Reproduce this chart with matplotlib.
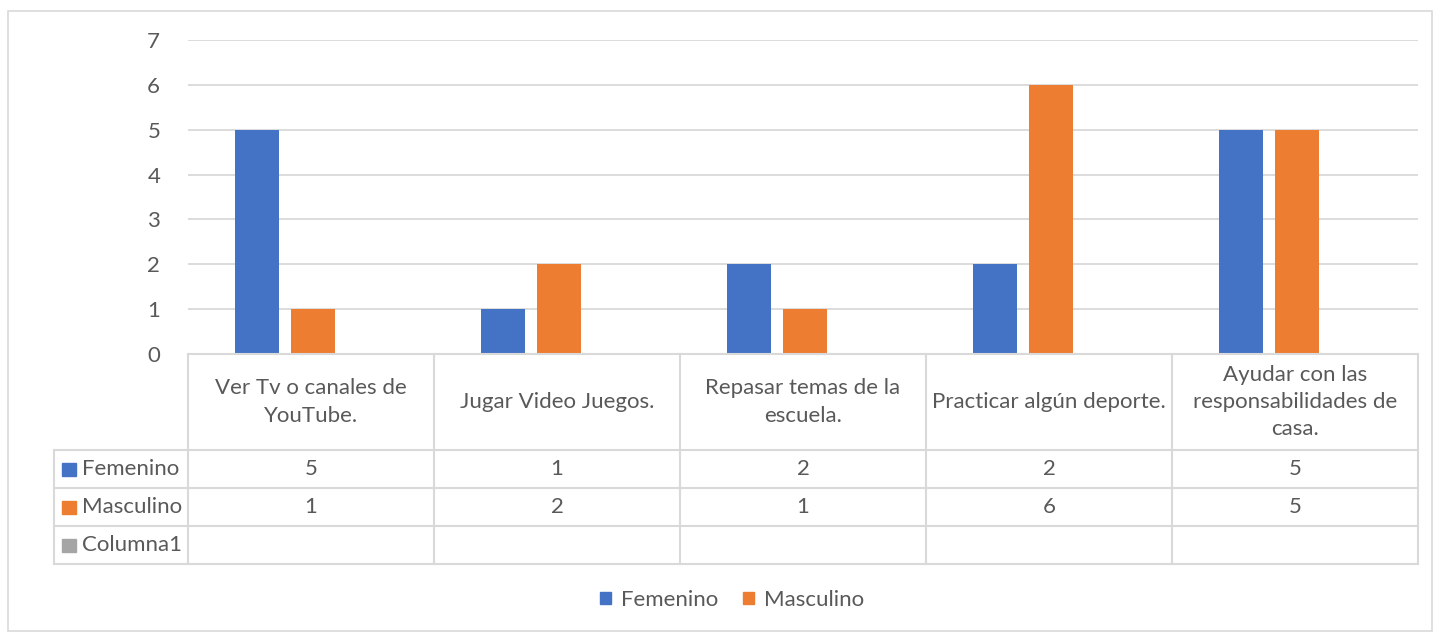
import matplotlib.pyplot as plt
from matplotlib.patches import Rectangle, Patch

# datos de la encuesta
categorias = ["Ver Tv o canales de\nYouTube.", "Jugar Video Juegos.",
              "Repasar temas de la\nescuela.", "Practicar algún deporte.",
              "Ayudar con las\nresponsabilidades de\ncasa."]
femenino = [5, 1, 2, 2, 5]
masculino = [1, 2, 1, 6, 5]
columna1 = [None, None, None, None, None]
series = ["Femenino", "Masculino", "Columna1"]
colores = ["#4472C4", "#ED7D31", "#A5A5A5"]
yticks = [0, 1, 2, 3, 4, 5, 6, 7]

W, H = 1435, 632
plt.rcParams['font.family'] = ['Lato', 'DejaVu Sans']
txt = "#595959"
grid = "#D9D9D9"
fs = 16

fig = plt.figure(figsize=(W / 100, H / 100), dpi=100)

def px_box(x0, y0, x1, y1):
    return [x0 / W, 1 - y1 / H, (x1 - x0) / W, (y1 - y0) / H]

# borde del grafico
fig.patches.append(Rectangle((8 / W, 1 / H), 1424 / W, 1 - 12 / H, transform=fig.transFigure,
                             fill=False, edgecolor=grid, lw=1.2))

ax = fig.add_axes(px_box(188, 40, 1418, 354))
n = len(categorias)
x = list(range(n))
paso = 56 / 246
ancho = 44 / 246
datos = [femenino, masculino, columna1]
for k, (vals, col) in enumerate(zip(datos, colores)):
    off = (k - 1) * paso + 2 / 246
    xs = [xi + off for xi, v in zip(x, vals) if v is not None]
    vs = [v for v in vals if v is not None]
    ax.bar(xs, vs, width=ancho, color=col, zorder=3)

ax.set_xlim(-0.5, n - 0.5)
ax.set_ylim(0, 7)
ax.set_yticks(yticks)
ax.yaxis.grid(True, color=grid, lw=1.3, zorder=0)
ax.tick_params(axis='y', length=0, labelsize=fs, labelcolor=txt, pad=20)
ax.set_xticks([])
for s in ax.spines.values():
    s.set_visible(False)

# tabla de datos
left_w = 134 / 246
ax_t = fig.add_axes(px_box(54, 354, 1418, 564))
ax_t.set_xlim(-0.5 - left_w, n - 0.5)
ax_t.set_ylim(210, 0)
ax_t.axis('off')
filas = [0, 96, 134, 172, 210]
lc = dict(color=grid, lw=1.5, clip_on=False)
# lineas horizontales
ax_t.plot([-0.5, n - 0.5], [0, 0], **lc)
for yy in filas[1:]:
    ax_t.plot([-0.5 - left_w, n - 0.5], [yy, yy], **lc)
# lineas verticales
for i in range(n + 1):
    ax_t.plot([i - 0.5, i - 0.5], [0, 210], **lc)
ax_t.plot([-0.5 - left_w] * 2, [96, 210], **lc)

for i, c in enumerate(categorias):
    ax_t.text(i, 48, c, ha='center', va='center', fontsize=fs, color=txt, linespacing=1.45)
for r, (nombre, vals, col) in enumerate(zip(series, datos, colores)):
    yc = (filas[r + 1] + filas[r + 2]) / 2
    x0 = -0.5 - left_w + 8 / 246
    ax_t.add_patch(Rectangle((x0, yc - 6.5), 14 / 246, 13, color=col, clip_on=False))
    ax_t.text(x0 + 20 / 246, yc, nombre, ha='left', va='center', fontsize=fs, color=txt)
    for i, v in enumerate(vals):
        if v is not None:
            ax_t.text(i, yc, str(v), ha='center', va='center', fontsize=fs, color=txt)

# leyenda
handles = [Patch(color=colores[0], label=series[0]), Patch(color=colores[1], label=series[1])]
fig.legend(handles=handles, loc='center', bbox_to_anchor=(732 / W, 1 - 600 / H), ncol=2,
           frameon=False, fontsize=fs, labelcolor=txt, handlelength=0.5, handleheight=0.5,
           handletextpad=0.45, columnspacing=1.1)

fig.savefig("out.png", dpi=100, facecolor='white')
